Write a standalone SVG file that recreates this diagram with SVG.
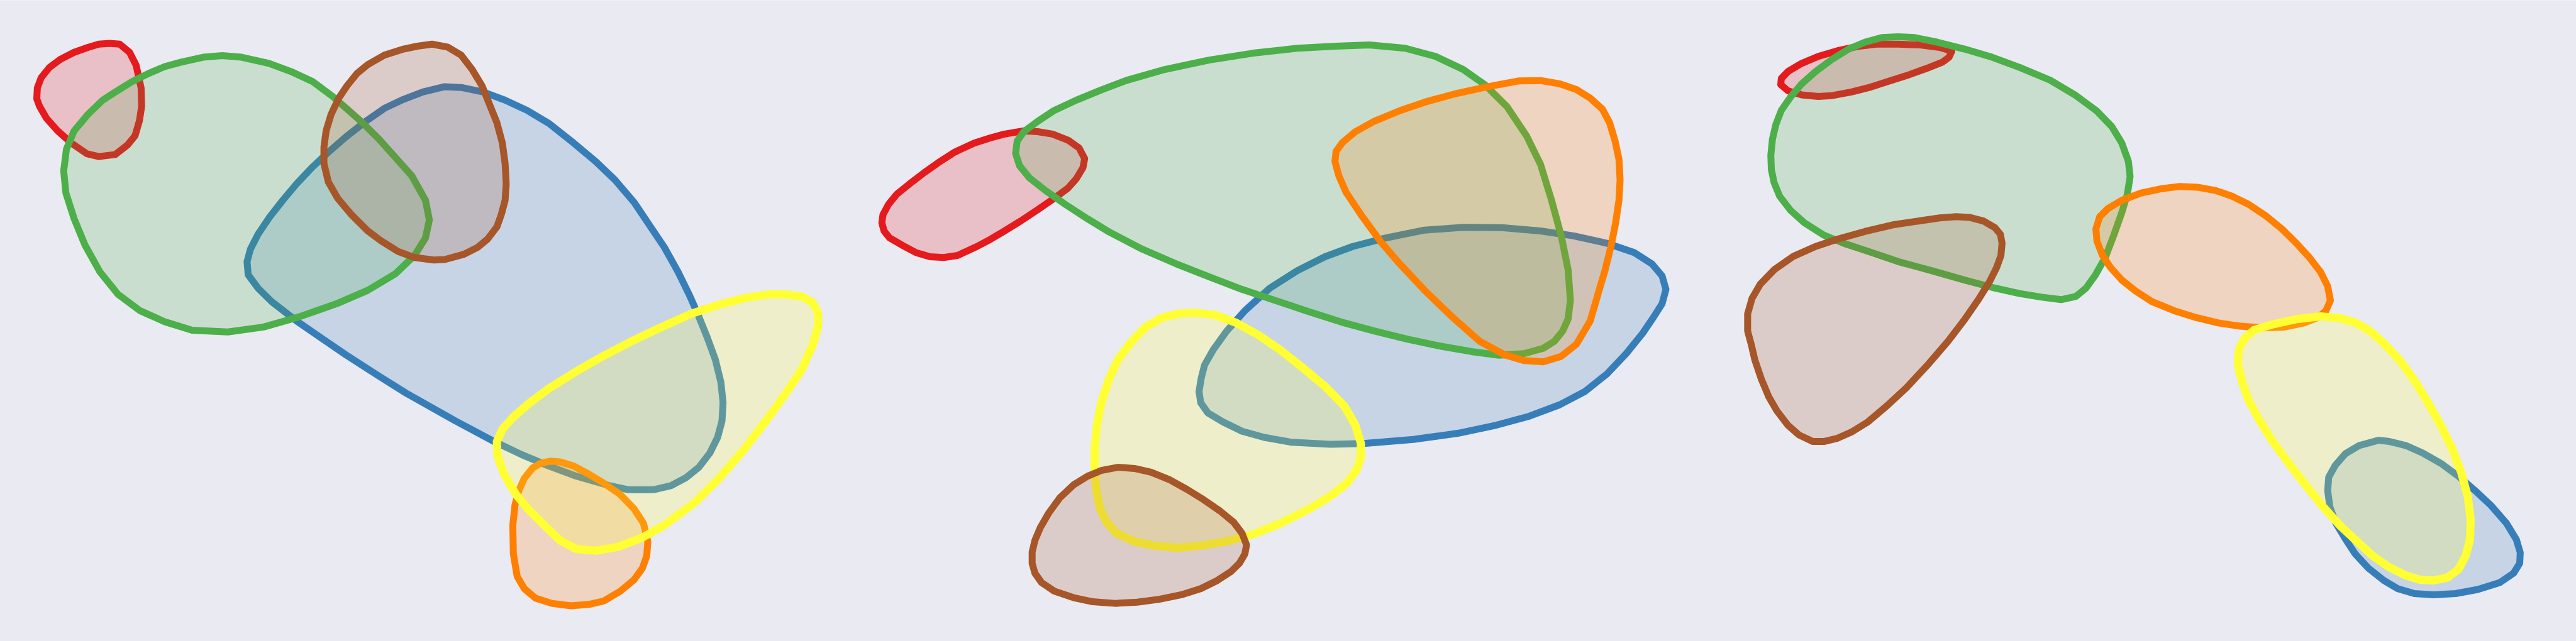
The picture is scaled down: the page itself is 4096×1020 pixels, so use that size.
<svg xmlns="http://www.w3.org/2000/svg" width="4096" height="1020" viewBox="0 0 4096 1020">
<style>
polygon{vector-effect:non-scaling-stroke;stroke-width:11;stroke-linejoin:round}
.red{fill:rgba(228,26,28,0.2);stroke:#E41A1C}
.blue{fill:rgba(55,126,184,0.2);stroke:#377EB8}
.green{fill:rgba(77,175,74,0.2);stroke:#4DAF4A}
.orange{fill:rgba(255,127,0,0.2);stroke:#FF7F00}
.yellow{fill:rgba(255,255,51,0.2);stroke:#FFFF33;stroke-width:13}
.brown{fill:rgba(166,86,40,0.2);stroke:#A65628}
</style>
<rect width="4096" height="1020" fill="#EAEAF2"/>
<rect width="4096" height="1" fill="#F2F2F6"/>
<g id="panel1" transform="matrix(0.8730,0,0,0.6505,0,0)">
<g id="p1-red"><polygon class="red" points="200,106 218,108 236,128 248,160 257,215 258,260 254,295 246,332 232,355 210,378 180,383 158,376 130,350 105,320 85,290 72,260 67,242 68,215 75,190 90,165 110,145 135,128 160,116 180,108"/></g>
<g id="p1-blue"><polygon class="blue" points="810,212 840,214 880,225 920,245 960,270 1000,302 1045,350 1085,395 1120,440 1155,495 1180,545 1210,605 1235,665 1255,720 1270,765 1288,825 1303,880 1313,935 1317,985 1315,1030 1307,1070 1293,1108 1273,1143 1250,1168 1222,1188 1190,1198 1145,1198 1110,1188 1050,1165 1000,1140 950,1112 900,1080 830,1030 740,962 690,920 630,868 580,822 540,785 495,738 470,705 452,672 450,640 456,610 470,573 490,533 515,490 540,450 568,410 600,370 630,335 665,298 700,265 735,243 770,225"/></g>
<g id="p1-green"><polygon class="green" points="405,136 440,140 490,155 530,175 570,200 605,235 635,270 660,300 690,340 720,385 750,430 775,490 782,538 775,582 755,625 720,670 670,710 615,742 545,775 480,800 415,812 350,808 300,787 255,760 215,720 182,665 155,600 135,535 120,472 116,418 121,365 135,320 160,280 187,245 210,225 240,200 270,180 300,163 330,152 370,140"/></g>
<g id="p1-orange"><polygon class="orange" points="1002,1128 1020,1130 1045,1140 1070,1158 1100,1182 1130,1210 1155,1245 1172,1280 1180,1325 1178,1360 1170,1390 1155,1418 1130,1446 1100,1470 1075,1478 1040,1482 1005,1476 975,1463 955,1440 942,1410 935,1355 934,1285 938,1235 945,1200 955,1170 970,1145 985,1133"/></g>
<g id="p1-yellow"><polygon class="yellow" points="1430,720 1460,725 1480,740 1490,765 1490,800 1480,845 1460,905 1430,965 1395,1030 1355,1100 1310,1170 1265,1230 1210,1285 1170,1315 1125,1338 1085,1347 1050,1343 1020,1322 995,1290 965,1250 940,1210 918,1160 906,1115 905,1080 915,1050 935,1020 965,985 1000,950 1050,908 1100,870 1150,835 1200,803 1260,767 1310,745 1360,728 1400,720"/></g>
<g id="p1-brown"><polygon class="brown" points="787,108 815,115 840,135 860,170 878,210 890,250 905,300 915,350 920,400 922,450 920,490 913,525 905,555 888,585 870,605 845,622 810,635 790,636 755,630 725,615 695,590 670,565 640,525 615,485 598,445 590,400 590,360 594,320 603,280 617,240 632,210 650,180 670,158 700,135 735,120 760,113"/></g>
</g>
<g id="panel2" transform="matrix(0.8786,0,0,0.6505,1360.04,0)">
<g id="p2-red"><polygon class="red" points="305,320 330,322 357,328 385,343 405,362 415,388 412,410 400,437 385,460 360,485 330,513 300,540 270,565 245,585 220,603 185,625 160,630 135,628 110,618 85,600 62,582 52,565 48,545 50,525 60,500 75,475 98,450 125,422 150,398 180,372 215,350 245,337 270,328"/></g>
<g id="p2-blue"><polygon class="blue" points="1100,556 1170,557 1240,565 1300,577 1360,595 1410,618 1442,646 1460,675 1467,708 1460,743 1445,775 1425,815 1395,865 1360,915 1320,958 1275,990 1220,1018 1160,1040 1090,1060 1010,1075 920,1085 860,1087 790,1082 740,1070 700,1055 665,1032 638,1010 625,985 622,958 626,925 632,893 648,855 672,810 705,760 750,705 800,662 850,628 900,603 960,582 1030,563"/></g>
<g id="p2-green"><polygon class="green" points="930,110 995,118 1050,138 1100,170 1140,208 1180,262 1215,333 1240,402 1260,490 1278,580 1290,660 1294,735 1290,780 1280,810 1265,835 1245,852 1210,865 1165,869 1115,860 1060,847 1000,830 940,810 880,788 820,762 760,735 700,708 640,677 580,645 520,610 460,568 420,535 380,500 345,467 315,435 297,405 290,375 293,345 305,322 330,297 360,270 400,245 445,220 490,197 560,170 640,147 720,130 800,118 870,113"/></g>
<g id="p2-orange"><polygon class="orange" points="1200,198 1240,197 1275,205 1305,219 1330,240 1352,267 1365,300 1375,345 1382,390 1384,440 1382,490 1376,545 1368,600 1357,660 1345,715 1330,785 1305,842 1277,872 1245,885 1210,882 1175,868 1130,835 1080,775 1030,710 985,645 950,590 915,525 888,470 875,430 868,395 870,370 882,348 905,322 940,296 985,271 1035,248 1090,228 1145,212"/></g>
<g id="p2-yellow"><polygon class="yellow" points="615,765 650,770 690,790 730,820 770,857 810,900 850,945 885,993 905,1040 915,1085 915,1120 907,1150 890,1182 860,1214 820,1246 770,1280 720,1307 670,1325 625,1335 585,1340 545,1336 505,1325 473,1305 455,1278 443,1245 436,1200 433,1150 433,1100 437,1040 445,985 458,930 475,880 500,835 525,800 555,777 585,767"/></g>
<g id="p2-brown"><polygon class="brown" points="475,1143 505,1146 535,1155 568,1173 600,1197 630,1222 660,1250 685,1278 700,1305 708,1333 705,1355 695,1378 680,1398 655,1420 625,1440 590,1455 550,1466 510,1473 470,1476 430,1472 395,1462 360,1446 337,1425 325,1402 320,1378 320,1350 325,1322 335,1290 350,1255 370,1218 395,1186 420,1165 445,1151"/></g>
</g>
<g id="panel3" transform="matrix(0.8775,0,0,0.6505,2720.07,0)">
<g id="p3-red"><polygon class="red" points="340,108 380,110 415,116 437,125 432,140 420,152 390,168 355,185 320,200 290,213 255,225 220,234 195,236 165,232 140,222 127,207 128,192 140,175 165,155 195,138 230,124 265,114 300,108"/></g>
<g id="p3-blue"><polygon class="blue" points="1210,1077 1230,1080 1260,1090 1290,1108 1325,1135 1355,1165 1385,1200 1415,1238 1442,1280 1460,1320 1467,1352 1466,1378 1455,1402 1430,1425 1390,1442 1350,1452 1310,1455 1275,1452 1245,1440 1220,1420 1192,1390 1168,1355 1150,1318 1133,1280 1122,1240 1118,1200 1120,1167 1132,1138 1150,1110 1175,1090"/></g>
<g id="p3-green"><polygon class="green" points="340,90 370,92 410,103 460,120 510,140 560,165 615,196 660,232 700,272 727,310 745,350 757,395 760,432 755,475 745,520 730,577 715,630 697,673 680,705 662,725 635,733 600,727 560,718 510,703 460,685 400,662 340,640 290,617 245,597 205,575 170,545 145,515 125,480 115,447 110,415 109,380 112,340 118,305 128,270 145,237 165,205 190,175 220,145 250,120 280,103 310,92"/></g>
<g id="p3-orange"><polygon class="orange" points="850,456 882,458 915,466 945,480 975,500 1005,527 1035,560 1062,596 1085,630 1105,665 1118,700 1123,735 1115,760 1100,777 1075,790 1040,800 1000,802 960,798 920,790 880,777 840,760 800,738 770,712 745,685 725,655 710,625 700,590 698,560 705,530 720,510 745,490 780,472 815,462"/></g>
<g id="p3-yellow"><polygon class="yellow" points="1105,774 1140,778 1170,790 1195,810 1220,840 1248,880 1275,930 1300,985 1323,1040 1343,1095 1360,1155 1372,1215 1377,1270 1376,1320 1368,1360 1355,1393 1335,1413 1310,1420 1285,1418 1260,1408 1230,1388 1200,1360 1170,1323 1140,1285 1110,1240 1080,1190 1050,1138 1020,1083 995,1030 975,980 963,935 955,890 957,855 967,828 985,807 1020,793 1060,781"/></g>
<g id="p3-brown"><polygon class="brown" points="445,530 470,532 495,541 515,557 525,573 528,595 526,625 518,655 505,690 485,733 460,782 430,835 395,890 355,948 320,992 285,1032 255,1057 230,1072 205,1080 185,1080 160,1064 140,1040 120,1005 105,970 92,928 80,880 74,845 67,810 67,768 75,730 90,695 115,660 150,627 190,603 230,585 280,566 330,550 380,540 415,533"/></g>
</g>
</svg>
